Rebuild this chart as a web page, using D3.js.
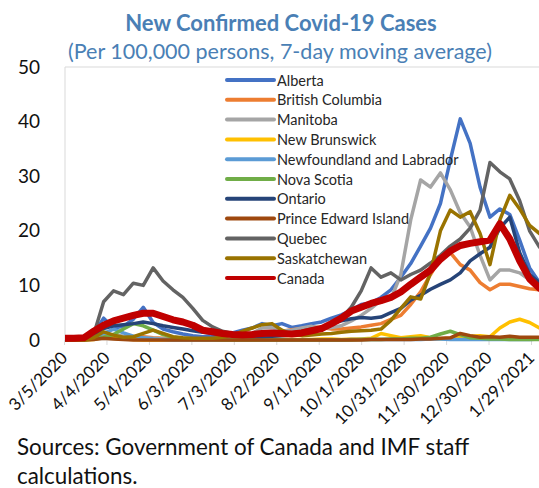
<!DOCTYPE html>
<html>
<head>
<meta charset="utf-8">
<script src="https://cdn.jsdelivr.net/npm/d3@7"></script>
<style>
  body { margin: 0; background: #fff; }
  text { font-family: Lato, "Open Sans", sans-serif; }
</style>
</head>
<body>
<script>
/*** Data (weekly readings, starting 3/5/2020) ***/
startDate = '2020-03-05'
stepDays = 7

tickLabels = ['3/5/2020', '4/4/2020', '5/4/2020', '6/3/2020', '7/3/2020', '8/2/2020',
              '9/1/2020', '10/1/2020', '10/31/2020', '11/30/2020', '12/30/2020', '1/29/2021']

yTicks = [0, 10, 20, 30, 40, 50]

provinces = ['Alberta', 'British Columbia', 'Manitoba', 'New Brunswick', 'Newfoundland and Labrador',
             'Nova Scotia', 'Ontario', 'Prince Edward Island', 'Quebec', 'Saskatchewan', 'Canada']

colors = ['#4472c4', '#ed7d31', '#a5a5a5', '#ffc000', '#5b9bd5',
          '#70ad47', '#264478', '#9e480e', '#636363', '#997300', '#c00000']

alberta = [0, 0.1, 0.3, 1.2, 4.0, 2.2, 2.5, 3.8, 6.0, 3.2, 2.0, 1.5, 1.1, 0.8, 0.6, 0.6, 0.8,
  1.3, 1.8, 2.2, 3.0, 2.6, 3.0, 2.3, 2.6, 3.0, 3.3, 4.0, 4.6, 5.5, 6.5, 6.8, 7.8,
  9.2, 11.5, 14.0, 17.2, 20.5, 25.0, 33.0, 40.5, 36.0, 28.0, 22.5, 24.0, 23.0, 18.3, 13.2, 10.5]
britishColumbia = [0, 0, 0.2, 0.8, 1.2, 0.8, 0.5, 0.5, 0.6, 0.4, 0.3, 0.2, 0.2, 0.2, 0.2, 0.2, 0.2,
  0.3, 0.5, 0.8, 1.0, 1.3, 1.6, 1.9, 2.1, 2.4, 2.3, 2.0, 2.0, 2.2, 2.4, 2.7, 3.0,
  3.8, 4.5, 6.5, 8.8, 12.0, 15.0, 16.0, 13.8, 12.8, 10.5, 9.2, 10.2, 10.2, 9.8, 9.4, 9.2]
manitoba = [0, 0, 0.1, 0.4, 0.9, 1.0, 0.7, 0.5, 0.4, 0.3, 0.2, 0.1, 0.1, 0.1, 0.1, 0.1, 0.2,
  0.4, 0.7, 1.2, 2.2, 2.3, 1.6, 1.8, 2.2, 2.5, 2.1, 2.3, 2.6, 3.5, 4.5, 5.8, 7.3,
  7.5, 12.0, 22.0, 29.3, 28.0, 30.6, 27.5, 23.3, 20.7, 15.5, 11.0, 12.8, 12.8, 12.3, 11.0, 10.2]
newBrunswick = [0, 0, 0, 0.1, 0.5, 0.3, 0.2, 0.1, 0, 0, 0, 0, 0, 0, 0, 0, 0,
  0, 0, 0, 0.1, 0.2, 0.1, 0.1, 0.1, 0.1, 0.2, 0.2, 0.1, 0.2, 0.2, 0.3, 1.2,
  0.8, 0.4, 0.6, 0.8, 0.4, 0.2, 0.3, 0.5, 0.7, 0.8, 0.6, 2.2, 3.3, 3.8, 3.2, 2.2]
newfoundland = [0, 0, 0.1, 0.5, 1.2, 2.0, 1.3, 0.7, 0.4, 0.2, 0.1, 0, 0, 0, 0, 0, 0,
  0, 0, 0, 0, 0, 0, 0, 0, 0, 0, 0, 0, 0.1, 0.1, 0.1, 0.1,
  0.1, 0.1, 0.1, 0.1, 0.2, 0.2, 0.1, 0.1, 0.1, 0.1, 0.1, 0.1, 0.1, 0.1, 0.1, 0.2]
novaScotia = [0, 0, 0, 0.2, 0.5, 1.0, 2.0, 3.0, 2.6, 1.8, 1.0, 0.5, 0.3, 0.2, 0.1, 0.1, 0,
  0, 0, 0, 0, 0, 0, 0, 0, 0, 0, 0, 0, 0, 0.1, 0.1, 0.1,
  0.2, 0.2, 0.3, 0.3, 0.5, 1.1, 1.6, 1.0, 0.4, 0.3, 0.2, 0.2, 0.1, 0.1, 0.1, 0.1]
ontario = [0, 0.1, 0.2, 0.8, 2.1, 2.6, 2.8, 3.0, 3.3, 3.0, 2.6, 2.3, 2.0, 1.7, 1.4, 1.2, 1.0,
  0.8, 0.7, 0.6, 0.6, 0.7, 0.8, 0.9, 1.1, 1.6, 2.3, 3.0, 3.5, 3.9, 4.1, 4.0, 4.2,
  5.0, 5.8, 7.3, 8.2, 9.3, 10.2, 11.0, 12.3, 14.5, 15.8, 17.0, 20.5, 22.5, 16.0, 12.0, 10.5]
princeEdward = [0, 0, 0, 0.1, 0.3, 0.2, 0.1, 0, 0, 0, 0, 0, 0, 0, 0, 0, 0,
  0, 0, 0, 0, 0, 0, 0, 0, 0, 0, 0, 0, 0, 0, 0.1, 0.1,
  0.1, 0.1, 0.1, 0.2, 0.2, 0.3, 0.4, 1.2, 0.8, 0.5, 0.6, 0.5, 0.7, 0.5, 0.5, 0.5]
quebec = [0.1, 0.2, 0.4, 1.0, 7.0, 9.0, 8.3, 10.4, 10.0, 13.2, 10.8, 9.2, 7.8, 5.8, 3.6, 2.4, 1.6,
  1.2, 0.9, 0.8, 0.9, 1.1, 1.2, 1.3, 1.6, 2.0, 2.3, 3.0, 4.0, 6.0, 9.0, 13.2, 11.5,
  12.3, 11.0, 12.0, 12.8, 14.1, 15.5, 17.2, 18.5, 20.5, 23.8, 32.5, 30.8, 29.5, 25.5, 20.0, 17.0]
saskatchewan = [0, 0, 0, 0.4, 1.5, 0.9, 0.5, 0.6, 1.2, 1.8, 1.2, 0.6, 0.4, 0.3, 0.3, 0.3, 0.5,
  0.9, 1.6, 2.2, 2.8, 3.0, 1.8, 1.0, 0.8, 0.9, 1.1, 1.2, 1.4, 1.6, 1.7, 1.8, 2.0,
  3.6, 5.8, 7.9, 7.5, 12.3, 20.0, 23.8, 22.5, 23.5, 19.5, 13.8, 22.0, 26.5, 24.0, 21.0, 19.5]
canada = [0.3, 0.3, 0.4, 1.6, 2.7, 3.5, 4.0, 4.5, 4.9, 4.9, 4.3, 3.7, 3.3, 2.7, 1.8, 1.5, 1.2,
  1.0, 0.9, 1.0, 1.2, 1.3, 1.2, 1.1, 1.3, 1.7, 2.1, 3.0, 4.0, 5.3, 6.0, 6.7, 7.2,
  7.8, 8.8, 10.2, 11.5, 12.8, 14.8, 16.3, 17.3, 17.7, 18.0, 18.3, 21.3, 18.5, 14.5, 11.2, 9.5]

seriesValues = [alberta, britishColumbia, manitoba, newBrunswick, newfoundland,
                novaScotia, ontario, princeEdward, quebec, saskatchewan, canada]

// Main
function main(){
	w = 539
	h = 488
	left = 65
	top0 = 67
	bottom = 340

	parseDate = d3.timeParse('%Y-%m-%d')
	parseTick = d3.timeParse('%m/%d/%Y')
	start = parseDate(startDate)
	dates = canada.map((v, i) => d3.timeDay.offset(start, i * stepDays))

	svg = d3.select('body')
					.append('svg')
					.attr('width', w)
					.attr('height', h)

	// Scale
	xScale = d3.scaleTime()
						 .domain([start, parseTick('1/29/2021')])
						 .range([64, 531])

	yScale = d3.scaleLinear()
						 .domain([0, 50])
						 .range([bottom, top0])

	// Title
	svg.append('text')
		 .attr('x', 281)
		 .attr('y', 31)
		 .attr('text-anchor', 'middle')
		 .attr('font-size', 22)
		 .attr('font-weight', 'bold')
		 .attr('fill', '#4a7fb5')
		 .text('New Confirmed Covid-19 Cases')

	svg.append('text')
		 .attr('x', 280)
		 .attr('y', 59)
		 .attr('text-anchor', 'middle')
		 .attr('font-size', 21.5)
		 .attr('fill', '#4a7fb5')
		 .text('(Per 100,000 persons, 7-day moving average)')

	// Frame
	svg.append('path')
		 .attr('d', `M${left},${bottom} V${top0} H${w + 5}`)
		 .attr('fill', 'none')
		 .attr('stroke', '#d9d9d9')
		 .attr('stroke-width', 1)

	// Axis
	yAxis = d3.axisLeft(yScale)
						.tickValues(yTicks)
						.tickSize(0)
						.tickPadding(25)

	svg.append('g')
		 .attr('transform', `translate(${left}, 0)`)
		 .attr('id', 'y-axis')
		 .call(yAxis)
		 .call(g => g.select('.domain').remove())
		 .call(g => g.selectAll('text')
		 							.attr('font-size', 19)
		 							.attr('fill', '#111')
		 							.attr('font-family', 'Lato, sans-serif'))

	xAxis = d3.axisBottom(xScale)
						.tickValues(tickLabels.map(parseTick))
						.tickFormat((d, i) => tickLabels[i])
						.tickSize(5)
						.tickSizeOuter(0)

	svg.append('g')
		 .attr('transform', `translate(0, ${bottom})`)
		 .attr('id', 'x-axis')
		 .call(xAxis)
		 .call(g => g.select('.domain')
		 							.attr('d', `M${left},0 H${w + 5}`)
		 							.attr('stroke', '#d9d9d9'))
		 .call(g => g.selectAll('line').attr('stroke', '#d9d9d9'))
		 .call(g => g.selectAll('text')
		 							.attr('font-size', 17)
		 							.attr('fill', '#111')
		 							.attr('font-family', 'Lato, sans-serif')
		 							.attr('text-anchor', 'end')
		 							.attr('dy', null)
		 							.attr('y', 0)
		 							.attr('transform', 'translate(4, 19) rotate(-45)'))

	// Lines
	svg.append('clipPath')
		 .attr('id', 'plot-clip')
		 .append('rect')
		 .attr('x', left)
		 .attr('y', 0)
		 .attr('width', w - left)
		 .attr('height', bottom + 10)

	line = d3.line()
					 .x((d, i) => xScale(dates[i]))
					 .y(d => yScale(d))

	svg.append('g')
		 .attr('clip-path', 'url(#plot-clip)')
		 .selectAll('path')
		 .data(seriesValues)
		 .enter()
				.append('path')
				.attr('d', d => line(d))
				.attr('fill', 'none')
				.attr('stroke', (d, i) => colors[i])
				.attr('stroke-width', (d, i) => i == 10 ? 7 : 3.5)
				.attr('stroke-linejoin', 'round')
				.attr('stroke-linecap', 'round')

	// Legend
	legend = svg.append('g')
							.selectAll('g')
							.data(provinces)
							.enter()
								.append('g')
								.attr('transform', (d, i) => `translate(227, ${80 + i * 19.8})`)

	legend.append('line')
				.attr('x1', 0)
				.attr('x2', 47)
				.attr('stroke', (d, i) => colors[i])
				.attr('stroke-width', 4)
				.attr('stroke-linecap', 'round')

	legend.append('text')
				.attr('x', 50)
				.attr('y', 5.5)
				.attr('font-size', 14.5)
				.attr('fill', '#262626')
				.text(d => d)

	// Source note
	svg.append('text')
		 .attr('x', 17)
		 .attr('y', 455)
		 .attr('font-size', 22.4)
		 .attr('fill', '#111')
		 .text('Sources: Government of Canada and IMF staff')

	svg.append('text')
		 .attr('x', 17)
		 .attr('y', 484)
		 .attr('font-size', 22.4)
		 .attr('fill', '#111')
		 .text('calculations.')
}

main()
</script>
</body>
</html>
